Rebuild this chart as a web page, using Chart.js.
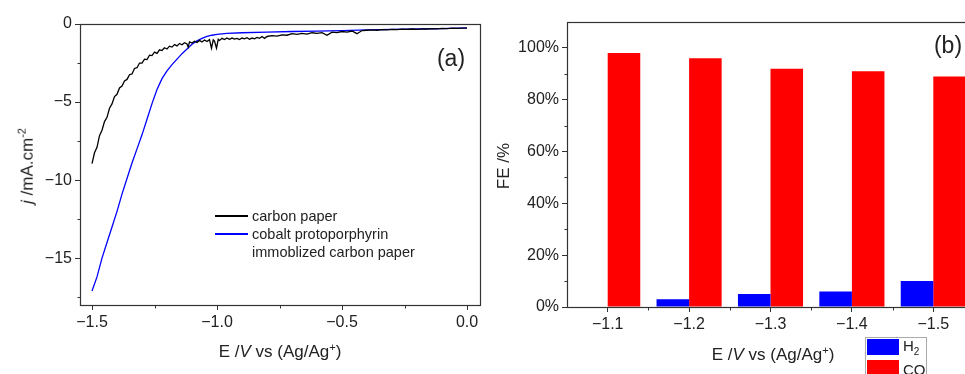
<!DOCTYPE html>
<html>
<head>
<meta charset="utf-8">
<script src="https://cdn.jsdelivr.net/npm/chart.js@4"></script>
<style>
  html, body { margin: 0; padding: 0; width: 965px; height: 374px; overflow: hidden; background: #fff; }
  body { position: relative; font-family: "Liberation Sans", Arial, sans-serif; color: #222; }
  #wrapA { position: absolute; left: 0; top: 0; width: 490px; height: 374px; }
  #wrapB { position: absolute; left: 490px; top: 0; width: 510px; height: 374px; }
  .txt { position: absolute; white-space: nowrap; line-height: 1; }
  .ctr { transform: translate(-50%, -50%); }
  .rot { transform: translate(-50%, -50%) rotate(-90deg); }
  .sw { position: absolute; }
</style>
</head>
<body>
<div id="wrapA"><canvas id="chartA" width="490" height="374"></canvas></div>
<div id="wrapB"><canvas id="chartB" width="510" height="374"></canvas></div>

<!-- axis titles -->
<div class="txt rot" style="left:26px; top:166px; font-size:17px;"><i>j</i> /mA.cm<sup style="font-size:11px;">-2</sup></div>
<div class="txt ctr" style="left:280px; top:351px; font-size:17px;">E /<i>V</i> vs (Ag/Ag<sup style="font-size:11px;">+</sup>)</div>
<div class="txt rot" style="left:503px; top:166px; font-size:17px;">FE /%</div>
<div class="txt ctr" style="left:773px; top:354px; font-size:17px;">E /<i>V</i> vs (Ag/Ag<sup style="font-size:11px;">+</sup>)</div>

<!-- panel labels -->
<div class="txt ctr" style="left:451px; top:58px; font-size:23px;">(a)</div>
<div class="txt ctr" style="left:948px; top:45px; font-size:23px;">(b)</div>

<!-- legend (a) -->
<div class="sw" style="left:215px; top:215px; width:33px; height:2px; background:#000;"></div>
<div class="txt" style="left:252px; top:216px; font-size:14.5px; transform:translateY(-50%);">carbon paper</div>
<div class="sw" style="left:215px; top:233px; width:33px; height:2px; background:#0000ff;"></div>
<div class="txt" style="left:252px; top:234px; font-size:14.5px; transform:translateY(-50%);">cobalt protoporphyrin</div>
<div class="txt" style="left:252px; top:252px; font-size:14.5px; transform:translateY(-50%);">immoblized carbon paper</div>

<!-- legend (b) -->
<div class="sw" style="left:865px; top:337px; width:62px; height:50px; border:1px solid #aaa; box-sizing:border-box;"></div>
<div class="sw" style="left:867px; top:339px; width:32px; height:16px; background:#0000ff;"></div>
<div class="txt" style="left:903px; top:347px; font-size:15px; transform:translateY(-50%);">H<sub style="font-size:10px;">2</sub></div>
<div class="sw" style="left:867px; top:360px; width:32px; height:16px; background:#ff0000;"></div>
<div class="txt" style="left:903px; top:369px; font-size:15px; transform:translateY(-50%);">CO</div>

<script>
// ==============================
// データ (a) LSV
// ==============================
const cpE = [
  -1.50, -1.49, -1.48, -1.47, -1.46, -1.45, -1.44, -1.43, -1.42, -1.41,
  -1.40, -1.39, -1.38, -1.37, -1.36, -1.35, -1.34, -1.33, -1.32, -1.31,
  -1.30, -1.29, -1.28, -1.27, -1.26, -1.25, -1.24, -1.23, -1.22, -1.21,
  -1.20, -1.19, -1.18, -1.17, -1.16, -1.15, -1.14, -1.13, -1.12, -1.115,
  -1.11, -1.10, -1.09, -1.08, -1.07, -1.06, -1.05, -1.04, -1.03, -1.022,
  -1.015, -1.01, -1.002, -0.995, -0.99, -0.98, -0.97, -0.96, -0.95, -0.94,
  -0.93, -0.92, -0.91, -0.90, -0.89, -0.88, -0.87, -0.86, -0.85, -0.84,
  -0.83, -0.82, -0.81, -0.80, -0.78, -0.76, -0.74, -0.72, -0.70, -0.68,
  -0.66, -0.64, -0.62, -0.60, -0.58, -0.56, -0.54, -0.52, -0.50, -0.48,
  -0.46, -0.44, -0.42, -0.40, -0.38, -0.36, -0.34, -0.32, -0.30, -0.28,
  -0.26, -0.24, -0.22, -0.20, -0.18, -0.16, -0.14, -0.12, -0.10, -0.08,
  -0.06, -0.04, -0.02, 0.00
];
const cpJ = [
  -8.95, -8.25, -7.90, -7.15, -6.80, -6.25, -5.98, -5.40, -5.12, -4.65,
  -4.50, -4.10, -3.98, -3.65, -3.55, -3.25, -3.20, -2.85, -2.80, -2.50,
  -2.50, -2.25, -2.28, -2.00, -2.02, -1.80, -1.88, -1.65, -1.70, -1.52,
  -1.60, -1.42, -1.48, -1.32, -1.40, -1.25, -1.33, -1.20, -1.28, -1.48,
  -1.15, -1.22, -1.10, -1.18, -1.05, -1.15, -1.02, -1.12, -1.00, -1.55,
  -1.02, -1.10, -1.55, -0.98, -1.05, -0.92, -1.00, -0.90, -0.98, -0.90,
  -0.97, -0.92, -1.00, -0.90, -0.95, -0.88, -0.98, -0.90, -0.95, -0.86,
  -0.92, -0.80, -0.92, -0.80, -0.75, -0.78, -0.70, -0.72, -0.62, -0.66,
  -0.60, -0.65, -0.56, -0.60, -0.55, -0.72, -0.52, -0.55, -0.48, -0.52,
  -0.45, -0.62, -0.42, -0.40, -0.38, -0.40, -0.36, -0.38, -0.34, -0.36,
  -0.33, -0.35, -0.32, -0.34, -0.31, -0.32, -0.29, -0.31, -0.28, -0.30,
  -0.27, -0.28, -0.26, -0.26
];
const coE = [
  -1.50, -1.48, -1.46, -1.44, -1.42, -1.40, -1.38, -1.36, -1.34, -1.32,
  -1.30, -1.28, -1.26, -1.24, -1.22, -1.20, -1.18, -1.16, -1.14, -1.12,
  -1.10, -1.08, -1.06, -1.04, -1.02, -1.00, -0.96, -0.90, -0.80, -0.70,
  -0.60, -0.50, -0.40, -0.30, -0.20, -0.10, 0.00
];
const coJ = [
  -17.1, -16.2, -15.0, -14.0, -13.0, -12.0, -10.9, -9.9, -8.9, -8.0,
  -7.1, -6.1, -5.1, -4.2, -3.5, -3.0, -2.6, -2.25, -1.9, -1.6,
  -1.3, -1.08, -0.92, -0.80, -0.72, -0.66, -0.60, -0.56, -0.52, -0.48,
  -0.45, -0.42, -0.38, -0.35, -0.32, -0.29, -0.25
];
const eTicks = [-1.5, -1.0, -0.5, 0.0];
const eMinor = [-1.25, -0.75, -0.25];
const jTicks = [0, -5, -10, -15];
const jMinor = [-2.5, -7.5, -12.5, -17.5];

// ==============================
// データ (b) FE
// ==============================
const potentials = ["\u22121.1", "\u22121.2", "\u22121.3", "\u22121.4", "\u22121.5"];
const feH2 = [0, 3, 5, 6, 10];
const feCO = [98, 96, 92, 91, 89];
const feTicks = [0, 20, 40, 60, 80, 100];
const feMinor = [10, 30, 50, 70, 90];
const feBoundaries = [0.5, 1.5, 2.5, 3.5];

Chart.defaults.font.family = "'Liberation Sans', Arial, sans-serif";
Chart.defaults.font.size = 16;
Chart.defaults.color = "#222";

const AXIS = "#333";
const minus = s => String(s).replace("-", "\u2212");

// 枠線と副目盛り
const framePlugin = {
  id: "frame",
  afterDraw(chart, args, opts) {
    const { ctx, chartArea: a, scales } = chart;
    const l = Math.round(a.left) + 0.5, t = Math.round(a.top) + 0.5;
    const r = Math.round(a.right) + 0.5, b = Math.round(a.bottom) + 0.5;
    ctx.save();
    ctx.strokeStyle = AXIS;
    ctx.lineWidth = 1.2;
    ctx.strokeRect(l, t, r - l, b - t);
    ctx.lineWidth = 1;
    ctx.beginPath();
    (opts.xMinor || []).forEach(v => {
      const px = Math.round(scales.x.getPixelForValue(v)) + 0.5;
      ctx.moveTo(px, b); ctx.lineTo(px, b + 3);
    });
    (opts.yMinor || []).forEach(v => {
      const py = Math.round(scales.y.getPixelForValue(v)) + 0.5;
      ctx.moveTo(l, py); ctx.lineTo(l - 3, py);
    });
    ctx.stroke();
    ctx.restore();
  }
};

const tickGrid = { drawOnChartArea: false, drawTicks: true, tickLength: 5, color: AXIS, lineWidth: 1 };

// ==============================
// (a) 線グラフ
// ==============================
new Chart(document.getElementById("chartA"), {
  type: "scatter",
  data: {
    datasets: [
      {
        label: "carbon paper",
        data: cpE.map((e, i) => ({ x: e, y: cpJ[i] })),
        borderColor: "#000",
        borderWidth: 1.3,
        showLine: true,
        pointRadius: 0
      },
      {
        label: "cobalt protoporphyrin immoblized carbon paper",
        data: coE.map((e, i) => ({ x: e, y: coJ[i] })),
        borderColor: "#0000ff",
        borderWidth: 1.3,
        showLine: true,
        pointRadius: 0
      }
    ]
  },
  options: {
    responsive: false,
    animation: false,
    layout: { padding: { top: 24, right: 10, left: 0, bottom: 0 } },
    scales: {
      x: {
        type: "linear",
        min: -1.548,
        max: 0.052,
        afterBuildTicks: s => { s.ticks = eTicks.map(v => ({ value: v })); },
        afterFit: s => { s.height = 69; },
        ticks: { padding: 3, callback: v => minus(v.toFixed(1)) },
        grid: tickGrid,
        border: { display: false }
      },
      y: {
        min: -18,
        max: 0,
        afterBuildTicks: s => { s.ticks = jTicks.map(v => ({ value: v })); },
        afterFit: s => { s.width = 80; },
        ticks: { padding: 3, callback: v => minus(v) },
        grid: tickGrid,
        border: { display: false }
      }
    },
    plugins: {
      legend: { display: false },
      tooltip: { enabled: false },
      frame: { xMinor: eMinor, yMinor: jMinor }
    }
  },
  plugins: [framePlugin]
});

// ==============================
// (b) 棒グラフ
// ==============================
new Chart(document.getElementById("chartB"), {
  type: "bar",
  data: {
    labels: potentials,
    datasets: [
      { label: "H2", data: feH2, backgroundColor: "#0000ff", borderWidth: 0 },
      { label: "CO", data: feCO, backgroundColor: "#ff0000", borderWidth: 0 }
    ]
  },
  options: {
    responsive: false,
    animation: false,
    categoryPercentage: 0.8,
    barPercentage: 1.0,
    layout: { padding: { top: 22, right: 26, left: 0, bottom: 0 } },
    scales: {
      x: {
        afterFit: s => { s.height = 67; },
        ticks: { padding: 3 },
        grid: Object.assign({}, tickGrid, { offset: false }),
        border: { display: false }
      },
      y: {
        min: 0,
        max: 110,
        afterBuildTicks: s => { s.ticks = feTicks.map(v => ({ value: v })); },
        afterFit: s => { s.width = 77; },
        ticks: { padding: 3, callback: v => v + "%" },
        grid: tickGrid,
        border: { display: false }
      }
    },
    plugins: {
      legend: { display: false },
      tooltip: { enabled: false },
      frame: { xMinor: feBoundaries, yMinor: feMinor }
    }
  },
  plugins: [framePlugin]
});
</script>
</body>
</html>
